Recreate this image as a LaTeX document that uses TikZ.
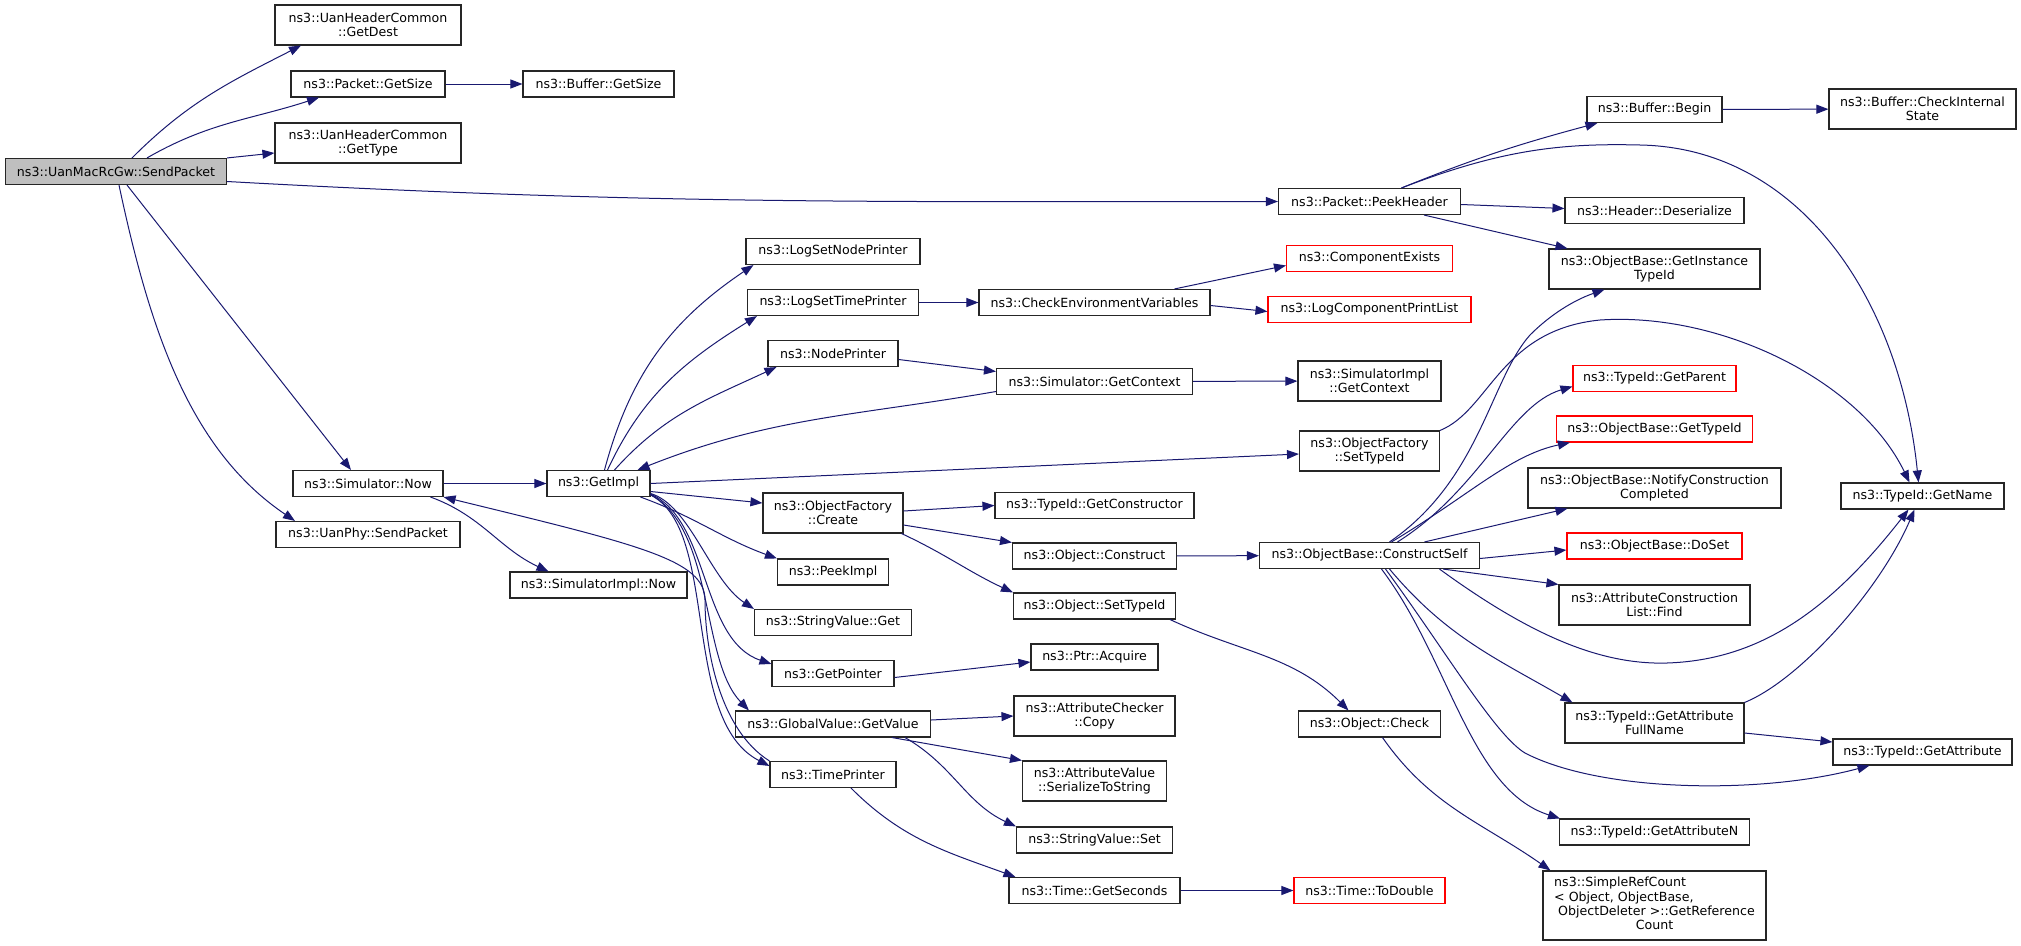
\documentclass[tikz,border=0pt]{standalone}
\usepackage{fontspec}
\setmainfont{DejaVu Sans}
\usetikzlibrary{arrows.meta}
\definecolor{edgeblue}{RGB}{25,25,112}

\begin{document}
\begin{tikzpicture}[x=1pt,y=-1pt,
	fn/.style={draw=black!85,fill=white,line width=1.1pt,inner sep=0pt,minimum height=26pt,align=center,font=\fontsize{12.6}{14.4}\selectfont},
	wd/.style={minimum width=#1pt},
	twoline/.style={minimum height=40pt},
	trunc/.style={fn,draw=red},
	rootfn/.style={fn,fill=gray!50},
	call/.style={draw=edgeblue,line width=1pt,-{Triangle[length=12pt,width=9pt]}}]
	\useasboundingbox (0,0) rectangle (2021,945);
	% column 0 and 1
	\node[rootfn,wd=221] (root) at (116,171.5) {ns3::UanMacRcGw::SendPacket};
	\node[fn,twoline,wd=186] (getdest) at (368,25) {ns3::UanHeaderCommon\\::GetDest};
	\node[fn,wd=154] (pgetsize) at (368,84) {ns3::Packet::GetSize};
	\node[fn,twoline,wd=186] (gettype) at (368,143) {ns3::UanHeaderCommon\\::GetType};
	\node[fn,wd=150] (simnow) at (368,483.5) {ns3::Simulator::Now};
	\node[fn,wd=184] (uanphy) at (368,534.5) {ns3::UanPhy::SendPacket};
	% column 2
	\node[fn,wd=151] (bgetsize) at (598.5,84) {ns3::Buffer::GetSize};
	\node[fn,wd=103] (getimpl) at (598.5,483.5) {ns3::GetImpl};
	\node[fn,wd=177] (simimplnow) at (598.5,585) {ns3::SimulatorImpl::Now};
	% column 3
	\node[fn,wd=174] (logsetnode) at (833,251.5) {ns3::LogSetNodePrinter};
	\node[fn,wd=171] (logsettime) at (833,302.5) {ns3::LogSetTimePrinter};
	\node[fn,wd=130] (nodeprinter) at (833,353.5) {ns3::NodePrinter};
	\node[fn,twoline,wd=140] (ofcreate) at (833,513) {ns3::ObjectFactory\\::Create};
	\node[fn,wd=111] (peekimpl) at (833,572) {ns3::PeekImpl};
	\node[fn,wd=157] (svget) at (833,622.5) {ns3::StringValue::Get};
	\node[fn,wd=122] (getpointer) at (833,673.5) {ns3::GetPointer};
	\node[fn,wd=195] (gvgetvalue) at (833,724) {ns3::GlobalValue::GetValue};
	\node[fn,wd=126] (timeprinter) at (833,774.5) {ns3::TimePrinter};
	% column 4
	\node[fn,wd=231] (checkenv) at (1094.5,302.5) {ns3::CheckEnvironmentVariables};
	\node[fn,wd=196] (simgetctx) at (1094.5,381.5) {ns3::Simulator::GetContext};
	\node[fn,wd=199] (getctor) at (1094.5,505.5) {ns3::TypeId::GetConstructor};
	\node[fn,wd=164] (objconstruct) at (1094.5,556) {ns3::Object::Construct};
	\node[fn,wd=162] (objsettid) at (1094.5,606) {ns3::Object::SetTypeId};
	\node[fn,wd=127] (ptracquire) at (1094.5,657) {ns3::Ptr::Acquire};
	\node[fn,twoline,wd=161] (accopy) at (1094.5,716) {ns3::AttributeChecker\\::Copy};
	\node[fn,twoline,wd=144] (avserial) at (1094.5,781) {ns3::AttributeValue\\::SerializeToString};
	\node[fn,wd=156] (svset) at (1094.5,840) {ns3::StringValue::Set};
	\node[fn,wd=171] (getseconds) at (1094.5,890.5) {ns3::Time::GetSeconds};
	% column 5
	\node[fn,wd=182] (peekheader) at (1369.5,201.5) {ns3::Packet::PeekHeader};
	\node[trunc,wd=166] (compexists) at (1369.5,258.5) {ns3::ComponentExists};
	\node[trunc,wd=203] (logcomplist) at (1369.5,309.5) {ns3::LogComponentPrintList};
	\node[fn,twoline,wd=143] (simimplctx) at (1369.5,381) {ns3::SimulatorImpl\\::GetContext};
	\node[fn,twoline,wd=140] (ofsettid) at (1369.5,451) {ns3::ObjectFactory\\::SetTypeId};
	\node[fn,wd=220] (constructself) at (1369.5,555.5) {ns3::ObjectBase::ConstructSelf};
	\node[fn,wd=142] (objcheck) at (1369.5,724) {ns3::Object::Check};
	\node[trunc,wd=151] (todouble) at (1369.5,890.5) {ns3::Time::ToDouble};
	% column 6
	\node[fn,wd=135] (bufbegin) at (1654.5,109.5) {ns3::Buffer::Begin};
	\node[fn,wd=179] (deserialize) at (1654.5,210.5) {ns3::Header::Deserialize};
	\node[fn,twoline,wd=211] (instancetid) at (1654.5,269) {ns3::ObjectBase::GetInstance\\TypeId};
	\node[trunc,wd=163] (getparent) at (1654.5,378.5) {ns3::TypeId::GetParent};
	\node[trunc,wd=196] (obgettid) at (1654.5,429) {ns3::ObjectBase::GetTypeId};
	\node[fn,twoline,wd=253] (notify) at (1654.5,488) {ns3::ObjectBase::NotifyConstruction\\Completed};
	\node[trunc,wd=175] (doset) at (1654.5,546) {ns3::ObjectBase::DoSet};
	\node[fn,twoline,wd=191] (acfind) at (1654.5,605) {ns3::AttributeConstruction\\List::Find};
	\node[fn,twoline,wd=179] (fullname) at (1654.5,723) {ns3::TypeId::GetAttribute\\FullName};
	\node[fn,wd=190] (getattrn) at (1654.5,832) {ns3::TypeId::GetAttributeN};
	\node[fn,wd=223,minimum height=69pt] (simplerc) at (1654.5,905.5) {\begin{tabular}{@{}l@{}}ns3::SimpleRefCount\\< Object, ObjectBase,\\\hspace{4pt}ObjectDeleter >::GetReference\\\multicolumn{1}{@{}c@{}}{Count}\end{tabular}};
	% column 7
	\node[fn,twoline,wd=187] (checkint) at (1922.5,109) {ns3::Buffer::CheckInternal\\State};
	\node[fn,wd=163] (getname) at (1922.5,496) {ns3::TypeId::GetName};
	\node[fn,wd=179] (getattr) at (1922.5,752) {ns3::TypeId::GetAttribute};

	% calls of the root
	\draw[call] ([xshift=16]root.north) to[out=45,in=207] ([xshift=-67]getdest.south);
	\draw[call] ([xshift=31]root.north) to[out=30,in=198] ([xshift=-49]pgetsize.south);
	\draw[call] (root.north east) -- ([yshift=-10]gettype.west);
	\draw[call] ([yshift=-10]root.east) .. controls (650,205) and (900,201.5) .. (peekheader.west);
	\draw[call] ([xshift=11]root.south) -- ([xshift=-17]simnow.north);
	\draw[call] ([xshift=3]root.south) .. controls (150,331) and (190,450) .. ([xshift=-73]uanphy.north);
	\draw[call] (pgetsize) -- (bgetsize);
	\draw[call] (simnow) -- (getimpl);
	\draw[call] ([xshift=-13]simnow.south east) to[out=-20,in=155] ([xshift=-50]simimplnow.north);
	\draw[call] (timeprinter.north west) .. controls (720,730) and (705,650) .. (705,600) .. controls (705,560) and (640,545) .. (simnow.south east);
	% GetImpl
	\draw[call] ([xshift=6]getimpl.north) to[out=75,in=214] ([xshift=8]logsetnode.south west);
	\draw[call] ([xshift=9]getimpl.north) to[out=65,in=212] ([xshift=10]logsettime.south west);
	\draw[call] ([xshift=16]getimpl.north) to[out=48,in=205] ([xshift=9]nodeprinter.south west);
	\draw[call] ([yshift=-10]simgetctx.west) .. controls (855,416) and (771,417) .. ([xshift=-13]getimpl.north east);
	\draw[call] (getimpl.east) -- ([yshift=-3]ofsettid.west);
	\draw[call] ([yshift=-8]getimpl.east) -- ([yshift=10]ofcreate.west);
	\draw[call] ([xshift=-10]getimpl.south east) to[out=-20,in=160] (peekimpl.north west);
	\draw[call] ([yshift=-10]getimpl.east) .. controls (690,505) and (710,580) .. (svget.north west);
	\draw[call] ([yshift=-10.5]getimpl.east) .. controls (710,520) and (700,640) .. ([yshift=-4]getpointer.north west);
	\draw[call] ([yshift=-11]getimpl.east) .. controls (715,530) and (700,660) .. ([xshift=14]gvgetvalue.north west);
	\draw[call] ([yshift=-11.5]getimpl.east) .. controls (720,530) and (680,720) .. ([yshift=-5]timeprinter.north west);
	% middle columns
	\draw[call] (logsettime) -- (checkenv);
	\draw[call] ([xshift=-36]checkenv.north east) -- ([yshift=-7]compexists.west);
	\draw[call] ([yshift=-3]checkenv.east) -- ([yshift=-2]logcomplist.west);
	\draw[call] ([yshift=-6]nodeprinter.east) -- ([yshift=10]simgetctx.west);
	\draw[call] (simgetctx) -- (simimplctx);
	\draw[call] ([yshift=2]ofcreate.east) -- (getctor.west);
	\draw[call] ([yshift=-12]ofcreate.east) -- (objconstruct.north west);
	\draw[call] ([xshift=-2]ofcreate.south east) to[out=-25,in=155] (objsettid.north west);
	\draw[call] (objconstruct) -- (constructself);
	\draw[call] ([xshift=-6]objsettid.south east) to[out=-25,in=135] ([xshift=-21]objcheck.north);
	\draw[call] ([xshift=13]objcheck.south) to[out=-55,in=145] ([xshift=8]simplerc.north west);
	\draw[call] ([xshift=18]timeprinter.south) to[out=-45,in=160] ([xshift=7]getseconds.north west);
	\draw[call] (getseconds) -- (todouble);
	\draw[call] ([yshift=-4]getpointer.east) -- ([yshift=-5]ptracquire.west);
	\draw[call] ([yshift=4]gvgetvalue.east) -- (accopy.west);
	\draw[call] ([xshift=-39]gvgetvalue.south east) -- (avserial.north west);
	\draw[call] ([xshift=-26]gvgetvalue.south east) to[out=-30,in=155] (svset.north west);
	% PeekHeader
	\draw[call] ([xshift=32]peekheader.north) to[out=22,in=195] ([xshift=11]bufbegin.south west);
	\draw[call] ([xshift=32]peekheader.north) .. controls (1500,150) and (1560,143) .. (1640,145) .. controls (1800,148) and (1900,300) .. ([xshift=-4]getname.north);
	\draw[call] ([yshift=-3]peekheader.east) -- ([yshift=2]deserialize.west);
	\draw[call] ([xshift=-37]peekheader.south east) -- ([xshift=19]instancetid.north west);
	\draw[call] (bufbegin) -- (checkint);
	\draw[call] (ofsettid.north east) .. controls (1490,410) and (1500,330) .. (1600,320) .. controls (1720,312) and (1860,380) .. ([xshift=-13]getname.north);
	% ConstructSelf
	\draw[call] ([xshift=20]constructself.north) .. controls (1480,480) and (1490,380) .. (1530,335) .. controls (1555,310) and (1580,298) .. ([xshift=-50]instancetid.south);
	\draw[call] ([xshift=28]constructself.north) .. controls (1480,490) and (1510,405) .. ([yshift=-8]getparent.west);
	\draw[call] ([xshift=22]constructself.north) .. controls (1470,495) and (1510,455) .. ([xshift=14]obgettid.south west);
	\draw[call] ([xshift=55]constructself.north) -- ([xshift=40]notify.south west);
	\draw[call] ([yshift=-3]constructself.east) -- ([yshift=-4]doset.west);
	\draw[call] ([xshift=-37]constructself.south east) -- (acfind.north west);
	\draw[call] ([xshift=20]constructself.south) to[out=-50,in=150] ([xshift=8]fullname.north west);
	\draw[call] ([xshift=12]constructself.south) .. controls (1450,660) and (1470,790) .. ([xshift=1]getattrn.north west);
	\draw[call] ([xshift=16]constructself.south) .. controls (1445,650) and (1495,735) .. (1525,753) .. controls (1600,792) and (1760,795) .. ([xshift=37]getattr.south west);
	\draw[call] ([xshift=70]constructself.south) .. controls (1530,635) and (1600,665) .. (1667,663) .. controls (1760,660) and (1830,610) .. ([xshift=-14]getname.south);
	\draw[call] (fullname.north east) .. controls (1800,680) and (1880,590) .. ([xshift=-8]getname.south);
	\draw[call] ([yshift=-10]fullname.east) -- ([yshift=10]getattr.west);
\end{tikzpicture}
\end{document}
